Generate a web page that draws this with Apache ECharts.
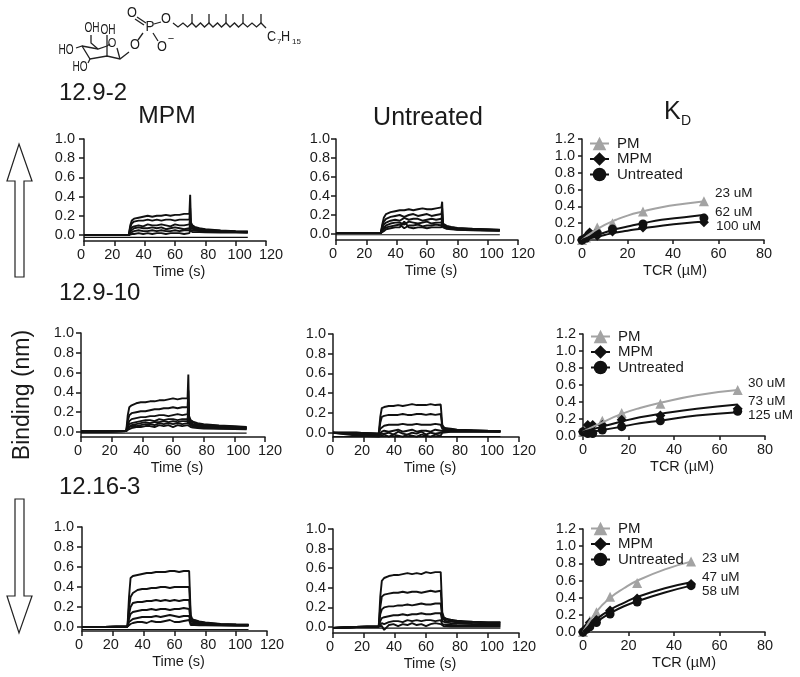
<!DOCTYPE html>
<html>
<head>
<meta charset="utf-8">
<title>Binding of TCR clones</title>
<script src="https://cdn.jsdelivr.net/npm/echarts@6/dist/echarts.min.js"></script>
<style>
	html,body{margin:0;padding:0;background:#fff;}
	#main{width:800px;height:677px;}
</style>
</head>
<body>
<div id="main"></div>
<script>
// sensorgram time points (s), shared by all six binding panels
const sensorTime = [0,15,29.5,30.5,31.5,33,36,39,42,45,48,51,54,57,60,63,66,69.5,70,70.5,71.5,73,76,80,90,100,108];

const mpm129_2 = [
	[0,0,0,.10,.15,.17,.18,.19,.20,.19,.20,.20,.21,.20,.21,.21,.22,.22,.42,.13,.10,.085,.07,.06,.048,.04,.036],
	[0,0,0,.08,.12,.14,.15,.15,.16,.15,.16,.15,.16,.16,.15,.16,.16,.16,.28,.11,.09,.075,.065,.055,.044,.038,.034],
	[0,0,0,.05,.08,.09,.10,.09,.11,.10,.10,.11,.10,.09,.11,.10,.10,.11,.18,.09,.075,.065,.055,.048,.04,.035,.032],
	[0,0,0,.04,.06,.07,.08,.07,.07,.08,.07,.08,.06,.07,.08,.07,.06,.07,.12,.07,.06,.055,.05,.044,.036,.032,.03],
	[0,0,0,.02,.03,.04,.05,.04,.04,.05,.04,.05,.04,.04,.05,.04,.05,.05,.08,.05,.05,.045,.04,.038,.032,.03,.028],
	[0,0,0,.01,.01,.01,.02,.01,.02,.01,.02,.02,.01,.02,.02,.02,.01,.02,.05,.03,.03,.03,.03,.028,.026,.026,.024]
];
const untreated129_2 = [
	[.01,.01,.01,.10,.17,.21,.23,.24,.25,.25,.26,.25,.26,.27,.26,.26,.27,.28,.34,.11,.095,.085,.075,.065,.055,.05,.045],
	[.01,.01,.01,.08,.13,.16,.18,.19,.20,.18,.20,.21,.19,.20,.21,.19,.20,.21,.27,.10,.085,.08,.07,.06,.05,.046,.042],
	[.01,.01,.01,.06,.10,.12,.14,.15,.14,.17,.15,.16,.16,.14,.15,.16,.15,.16,.21,.09,.08,.07,.065,.055,.048,.044,.04],
	[.01,.01,.01,.05,.07,.09,.11,.12,.12,.10,.13,.12,.11,.12,.13,.11,.12,.12,.17,.085,.075,.065,.06,.05,.045,.04,.038],
	[.01,.01,.01,.03,.05,.07,.08,.09,.10,.06,.09,.09,.10,.08,.09,.09,.10,.09,.13,.08,.07,.06,.055,.048,.042,.038,.036],
	[.01,.01,.01,.02,.03,.05,.06,.07,.07,.13,.07,.06,.07,.07,.06,.07,.07,.07,.10,.07,.06,.055,.05,.045,.04,.036,.034]
];
const mpm129_10 = [
	[.005,.005,.01,.17,.25,.27,.29,.30,.30,.31,.31,.32,.32,.33,.34,.33,.34,.34,.58,.16,.12,.105,.09,.08,.065,.058,.052],
	[.005,.005,.01,.11,.17,.19,.20,.21,.21,.22,.23,.23,.24,.24,.25,.24,.25,.25,.42,.14,.105,.095,.08,.07,.06,.054,.048],
	[.005,.005,.01,.07,.11,.13,.14,.15,.15,.16,.16,.17,.17,.16,.17,.18,.17,.18,.30,.12,.09,.08,.07,.062,.054,.05,.044],
	[.005,.005,.01,.05,.08,.09,.10,.11,.12,.12,.11,.13,.12,.13,.13,.12,.13,.13,.22,.10,.08,.07,.062,.056,.048,.044,.04],
	[.005,.005,.01,.04,.06,.07,.08,.09,.10,.09,.10,.10,.11,.10,.11,.10,.11,.11,.17,.09,.07,.062,.056,.05,.042,.04,.036],
	[.005,.005,.01,.03,.05,.06,.06,.07,.08,.08,.07,.09,.08,.09,.08,.09,.08,.09,.13,.08,.06,.055,.05,.044,.038,.036,.032],
	[.005,.005,.01,.02,.03,.04,.05,.05,.06,.06,.05,.07,.06,.07,.05,.07,.06,.07,.09,.06,.05,.045,.04,.036,.032,.03,.028]
];
const untreated129_10 = [
	[0,0,-.01,.16,.25,.26,.27,.27,.28,.27,.28,.29,.28,.28,.28,.29,.28,.285,.28,.08,.055,.045,.04,.03,.025,.02,.018],
	[0,0,-.01,.10,.16,.17,.18,.18,.18,.19,.18,.18,.19,.19,.18,.19,.18,.19,.18,.06,.045,.04,.035,.028,.022,.018,.016],
	[0,0,-.01,.04,.06,.07,.08,.08,.08,.09,.08,.08,.09,.08,.08,.08,.09,.08,.08,.04,.035,.03,.028,.024,.02,.016,.014],
	[0,-.01,-.02,0,.01,.02,.01,.02,.03,.01,.02,.03,.01,.02,.02,.01,.03,.02,.02,.02,.02,.02,.02,.018,.016,.014,.012],
	[0,-.02,-.03,-.02,-.01,-.01,0,-.02,.01,-.01,-.02,0,-.01,.01,-.02,0,-.01,0,.01,.01,.01,.012,.012,.012,.012,.012,.01],
	[0,-.03,-.04,-.03,-.03,-.02,-.04,-.02,-.03,-.04,-.02,-.03,-.04,-.02,-.03,-.04,-.02,-.03,-.01,0,.005,.005,.008,.008,.008,.008,.008]
];
const mpm1216_3 = [
	[0,0,.005,.30,.49,.51,.52,.53,.54,.54,.55,.55,.55,.56,.56,.55,.56,.56,.56,.12,.08,.07,.055,.045,.03,.026,.024],
	[0,0,.005,.20,.30,.34,.37,.38,.38,.39,.39,.40,.40,.39,.40,.40,.40,.40,.40,.10,.07,.06,.05,.04,.028,.024,.022],
	[0,0,.005,.13,.20,.24,.25,.25,.26,.26,.27,.26,.27,.26,.27,.26,.27,.27,.27,.08,.06,.05,.045,.035,.026,.022,.02],
	[0,0,.005,.08,.13,.15,.16,.17,.17,.18,.17,.18,.18,.17,.18,.18,.19,.18,.18,.06,.05,.045,.04,.032,.024,.02,.018],
	[0,0,.005,.05,.07,.08,.09,.10,.10,.10,.11,.10,.11,.12,.11,.10,.11,.11,.11,.04,.04,.035,.03,.026,.02,.018,.016],
	[0,0,.005,.02,.03,.04,.05,.05,.04,.06,.05,.05,.06,.07,.05,.05,.06,.07,.07,.02,.02,.02,.018,.016,.014,.012,.012]
];
const untreated1216_3 = [
	[-.01,0,.005,.31,.47,.50,.52,.53,.53,.54,.55,.54,.55,.54,.56,.55,.56,.56,.54,.15,.10,.085,.075,.065,.055,.05,.05],
	[-.01,0,.005,.20,.31,.33,.34,.35,.35,.36,.35,.36,.36,.35,.36,.37,.36,.37,.36,.12,.085,.075,.065,.055,.05,.045,.045],
	[-.01,0,.005,.13,.18,.20,.21,.21,.22,.22,.23,.22,.23,.24,.23,.23,.24,.24,.23,.09,.07,.06,.055,.048,.042,.038,.036],
	[-.01,0,.005,.06,.09,.10,.11,.12,.12,.13,.12,.13,.13,.14,.13,.13,.14,.14,.13,.06,.05,.045,.04,.035,.03,.028,.026],
	[-.01,0,.005,.02,.04,.03,.05,.06,.06,.05,.07,.06,.07,.06,.07,.07,.06,.07,.06,.03,.025,.02,.02,.018,.016,.015,.015],
	[-.01,0,.005,.01,.01,-.03,.02,.03,.01,.03,.02,.04,.02,.03,.01,.03,.04,.03,.03,.01,.008,.006,.005,.005,.004,.004,.004]
];

// flat reference trace under each panel
const baseline = [-.024,-.008,-.012,-.04,-.025,-.012];

// KD titration points
const kdConc129_2 = [0,1.7,3.35,6.7,13.4,26.8,53.6];
const kdPM129_2 = [0,.03,.08,.15,.20,.34,.46];
const kdMPM129_2 = [0,.04,.09,.05,.10,.15,.21];
const kdUn129_2 = [0,.02,.07,.08,.13,.19,.26];
const fitX129_2 = [0,5,10,15,20,27,35,45,54];
const fitPM129_2 = [0,.10,.18,.24,.29,.34,.39,.43,.46];
const fitMPM129_2 = [0,.03,.06,.09,.11,.14,.17,.20,.22];
const fitUn129_2 = [0,.05,.09,.13,.16,.20,.24,.27,.30];

const kdConc129_10 = [0,2.1,4.25,8.5,17,34,68];
const kdPM129_10 = [.05,.07,.09,.18,.27,.38,.54];
const kdMPM129_10 = [.05,.13,.13,.13,.19,.24,.32];
const kdUn129_10 = [.05,.03,.03,.07,.11,.18,.29];
const fitX129_10 = [0,8.5,17,25,34,50,68];
const fitPM129_10 = [.05,.16,.26,.33,.39,.48,.54];
const fitMPM129_10 = [.05,.11,.17,.22,.26,.32,.37];
const fitUn129_10 = [.03,.07,.11,.15,.18,.24,.28];

const kdConc1216_3 = [0,1.5,3,5.9,11.9,23.8,47.5];
const kdPM1216_3 = [0,.06,.13,.23,.41,.57,.82];
const kdMPM1216_3 = [0,.05,.11,.14,.25,.39,.56];
const kdUn1216_3 = [0,.03,.06,.11,.21,.35,.54];
const fitX1216_3 = [0,6,12,18,24,36,47.5];
const fitPM1216_3 = [0,.24,.40,.51,.60,.73,.82];
const fitMPM1216_3 = [0,.15,.26,.34,.41,.51,.58];
const fitUn1216_3 = [0,.12,.22,.30,.36,.46,.54];

const yTicks = [0,.2,.4,.6,.8,1];
const kdTicks = [0,.2,.4,.6,.8,1,1.2];
const timeTicks = [0,20,40,60,80,100,120];
const tcrTicks = [0,20,40,60,80];

const FONT = '"Liberation Sans", Arial, sans-serif';
const INK = '#1a1a1a';
const GREY = '#a3a3a3';

function pairs(xs,ys){
	return xs.map(function(x,i){ return [x,ys[i]]; });
}

// left, right edge, top, y of zero, y of axis line, y label margin
const sensorPanels = [
	{box:[84,266,139,235,241,9], data:mpm129_2},
	{box:[336,518,139,234,240,6], data:untreated129_2},
	{box:[81,265,333,432,437,7], data:mpm129_10},
	{box:[333,519,334,432.7,437,7], data:untreated129_10},
	{box:[82,267,527,627,631,8], data:mpm1216_3},
	{box:[333,519,529,627,633,7], data:untreated1216_3}
];
const kdPanels = [
	{box:[582,764,139,240], legendTop:136, namePad:4, conc:kdConc129_2, pm:kdPM129_2, mpm:kdMPM129_2, un:kdUn129_2, fx:fitX129_2, fp:fitPM129_2, fm:fitMPM129_2, fu:fitUn129_2},
	{box:[583,765,334,436], legendTop:329, namePad:16, conc:kdConc129_10, pm:kdPM129_10, mpm:kdMPM129_10, un:kdUn129_10, fx:fitX129_10, fp:fitPM129_10, fm:fitMPM129_10, fu:fitUn129_10},
	{box:[583,765,529,632], legendTop:521, namePad:20, conc:kdConc1216_3, pm:kdPM1216_3, mpm:kdMPM1216_3, un:kdUn1216_3, fx:fitX1216_3, fp:fitPM1216_3, fm:fitMPM1216_3, fu:fitUn1216_3}
];

var grids=[], xAxes=[], yAxes=[], series=[], legends=[];

function axisBits(ticks,fmt,margin,tick){
	return {
		axisLine:{show:true,onZero:false,lineStyle:{color:INK,width:1.5}},
		axisTick:{show:true,length:tick,customValues:ticks,lineStyle:{color:INK,width:1.5}},
		axisLabel:{customValues:ticks,formatter:fmt,color:INK,fontFamily:FONT,fontSize:14.5,margin:margin},
		splitLine:{show:false}
	};
}
function addGrid(left,right,top,bottom,xmax,xticks,xname,namePad,ymin,ymax,yticks,ymargin,tick){
	grids.push({left:left,top:top,width:right-left,height:bottom-top,containLabel:false});
	xAxes.push(Object.assign({type:'value',gridIndex:grids.length-1,min:0,max:xmax,
		name:xname,nameLocation:'middle',nameGap:23,
		nameTextStyle:{color:INK,fontFamily:FONT,fontSize:14.5,verticalAlign:'top',padding:[0,0,0,namePad]}
	},axisBits(xticks,function(v){return String(v);},6,tick)));
	yAxes.push(Object.assign({type:'value',gridIndex:grids.length-1,min:ymin,max:ymax},
		axisBits(yticks,function(v){return v.toFixed(1);},ymargin,tick)));
	return grids.length-1;
}

// the time labels sit a few pixels off their ticks in the original figure
const timeShift = {0:-3,20:-2,40:-1,60:0,80:3,100:4,120:5};
var timeRich = {};
timeTicks.forEach(function(v){
	var s=timeShift[v];
	timeRich['t'+v]={color:INK,fontFamily:FONT,fontSize:14.5,padding:s>0?[0,0,0,2*s]:[0,-2*s,0,0]};
});

sensorPanels.forEach(function(p,n){
	var b=p.box;
	var ymin=-(b[4]-b[3])/(b[3]-b[2]);
	var g=addGrid(b[0],b[1],b[2],b[4],120,timeTicks,'Time (s)',8,ymin,1,yTicks,b[5],5);
	xAxes[g].axisLabel.formatter=function(v){ return '{t'+v+'|'+v+'}'; };
	xAxes[g].axisLabel.rich=timeRich;
	p.data.forEach(function(curve){
		series.push({type:'line',xAxisIndex:g,yAxisIndex:g,data:pairs(sensorTime,curve),
			showSymbol:false,symbol:'none',silent:true,lineStyle:{color:'#111',width:1.9}});
	});
	series.push({type:'line',xAxisIndex:g,yAxisIndex:g,data:[[0,baseline[n]],[108,baseline[n]]],
		showSymbol:false,symbol:'none',silent:true,lineStyle:{color:'#111',width:1.2}});
});

const kdStyles = [
	{name:'PM',color:GREY,symbol:'triangle',size:10,key:'pm',fit:'fp'},
	{name:'MPM',color:'#111',symbol:'diamond',size:10,key:'mpm',fit:'fm'},
	{name:'Untreated',color:'#111',symbol:'circle',size:9,key:'un',fit:'fu'}
];
kdPanels.forEach(function(p){
	var b=p.box;
	var g=addGrid(b[0],b[1],b[2],b[3],80,tcrTicks,'TCR (\u00b5M)',p.namePad,0,1.2,kdTicks,7,4);
	kdStyles.forEach(function(s){
		// the fit line comes first so the legend takes its icon from it
		series.push({name:s.name,type:'line',xAxisIndex:g,yAxisIndex:g,data:pairs(p.fx,p[s.fit]),smooth:true,
			showSymbol:false,symbol:s.symbol,symbolSize:s.size,silent:true,
			itemStyle:{color:s.color},lineStyle:{color:s.color,width:2}});
	});
	kdStyles.forEach(function(s){
		series.push({name:s.name,type:'scatter',xAxisIndex:g,yAxisIndex:g,data:pairs(p.conc,p[s.key]),
			symbol:s.symbol,symbolSize:s.size,silent:true,itemStyle:{color:s.color,opacity:1}});
	});
	legends.push({show:true,orient:'vertical',left:b[0]+7,top:p.legendTop,padding:0,itemGap:0.5,itemWidth:19,itemHeight:17,
		selectedMode:false,data:['PM','MPM','Untreated'],
		textStyle:{color:INK,fontFamily:FONT,fontSize:15,padding:[0,0,0,3]}});
});

// small drawing helpers for the annotations
function text(str,x,y,size,extra){
	return Object.assign({type:'text',x:x,y:y,silent:true,
		style:{text:str,fill:INK,font:size+'px '+FONT,align:'left',verticalAlign:'middle'}},extra||{});
}
function center(str,x,y,size,sx){
	var t=text(str,x,y,size,{scaleX:sx||1});
	t.style.align='center';
	return t;
}
function stroke(points){
	return {type:'polyline',silent:true,shape:{points:points},style:{stroke:'#222',lineWidth:1.3,fill:null}};
}
function arrow(points){
	return {type:'polygon',silent:true,shape:{points:points},style:{stroke:'#222',lineWidth:1.2,fill:'#fff'}};
}

var art = [
	text('12.9-2',59,93,24), text('12.9-10',59,293,24), text('12.16-3',59,487,24),
	center('MPM',167,116,24.6), center('Untreated',428,118,25),
	text('K',664,112,25), text('D',681,121,14),
	center('Binding (nm)',23,395,23),
	text('23 uM',715,193,13.5), text('62 uM',715,212,13.5), text('100 uM',716,226,13.5),
	text('30 uM',748,383,13.5), text('73 uM',748,401,13.5), text('125 uM',748,415,13.5),
	text('23 uM',702,558,13.5), text('47 uM',702,577,13.5), text('58 uM',702,591,13.5),
	arrow([[19,144],[32,181],[24,181],[24,277],[15,277],[15,181],[7,181]]),
	arrow([[15,499],[24,499],[24,596],[32,596],[19,633],[7,596],[15,596]])
];
art[7].rotation=Math.PI/2;

// lipid structure: sugar ring, phosphate, branched tail
art.push(
	center('HO',66,50,14,.72), center('OH',92,28,14,.72), center('OH',108,30,14,.72),
	center('HO',80,67,14,.72), center('O',112,43,13,.85), center('O',135,45,15,.85),
	center('P',150,27,15,.9), center('O',132,13,15,.85), center('O',166,19,15,.85), center('O',162,47,15,.85),
	center('\u2212',171,39,11),
	text('C',267,37,14,{scaleX:.9}), text('7',277,42,8), text('H',281,37,14,{scaleX:.9}), text('15',292,42,8),
	stroke([[76,48],[82,46],[90,59],[107,56],[120,59],[129,52]]),
	stroke([[82,46],[98,49],[107,46],[110,44]]),
	stroke([[91,35],[91,43],[98,49]]),
	stroke([[107,35],[107,56]]),
	stroke([[117,48],[120,59]]),
	stroke([[90,59],[88,63]]),
	stroke([[138,40],[143,33]]),
	stroke([[137,17],[146,23]]), stroke([[135,19],[144,25]]),
	stroke([[154,24],[161,22]]),
	stroke([[153,33],[158,41]]),
	// tail with its five methyl branches
	stroke([[173,23],[178,27],[183,23],[187.5,27],[192,23],[196,27],[200.5,23],[204.5,27],[209,23],[213,27],
		[217.5,23],[221.5,27],[226,23],[230,27],[234.5,23],[238.5,27],[243,23],[247.5,27],[252,23],[256.5,27],[261,23],[266,28]]),
	stroke([[192,23],[192,14]]), stroke([[209,23],[209,14]]), stroke([[226,23],[226,14]]),
	stroke([[243,23],[243,14]]), stroke([[261,23],[261,14]])
);

var myChart = echarts.init(document.getElementById('main'));
var option = {
	animation:false,
	backgroundColor:'#fff',
	textStyle:{fontFamily:FONT},
	grid:grids,
	xAxis:xAxes,
	yAxis:yAxes,
	legend:legends,
	series:series,
	graphic:{elements:art}
};
myChart.setOption(option);
</script>
</body>
</html>
